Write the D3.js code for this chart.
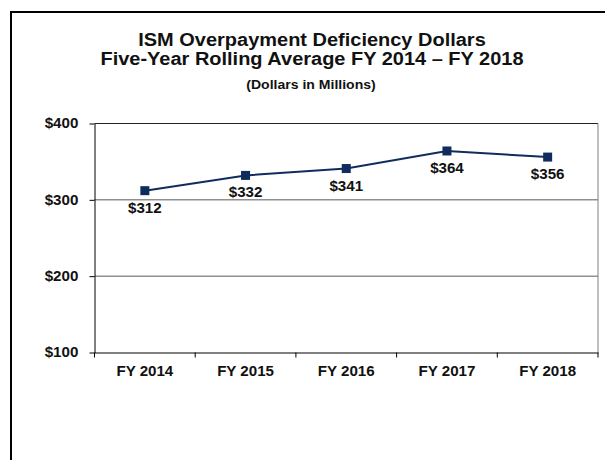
<!DOCTYPE html>
<html>
<head>
<meta charset="utf-8">
<script src="https://cdnjs.cloudflare.com/ajax/libs/d3/7.8.5/d3.min.js"></script>
<style>
  body { margin: 0; background: #fff; }
  text { font-family: "Liberation Sans", Arial, sans-serif; font-weight: bold; fill: #111; }
</style>
</head>
<body>
<div id="chart"></div>
<script>
const years = ['FY 2014', 'FY 2015', 'FY 2016', 'FY 2017', 'FY 2018']
const values = [312, 332, 341, 364, 356]
const yTicks = [100, 200, 300, 400]
const titleLines = ['ISM Overpayment Deficiency Dollars', 'Five-Year Rolling Average FY 2014 \u2013 FY 2018']
const subTitle = '(Dollars in Millions)'

const w = 605,
      h = 460,
      stretch = 1.08,
      navy = '#0f2d5c'

const svg = d3.select('#chart')
              .append('svg')
              .attr('width', w)
              .attr('height', h)

// outer frame, runs past the right and bottom edge
svg.append('rect')
   .attr('x', 11)
   .attr('y', 12)
   .attr('width', 700)
   .attr('height', 600)
   .attr('fill', 'none')
   .attr('stroke', '#000')
   .attr('stroke-width', 2)

const addText = (x, y, txt, size) => {
  return svg.append('text')
            .attr('transform', `translate(${x},${y}) scale(${stretch},1)`)
            .attr('text-anchor', 'middle')
            .style('font-size', size + 'px')
            .text(txt)
}

addText(312, 46, titleLines[0], 18.5)
addText(312, 64.5, titleLines[1], 18.5)
addText(311, 88.5, subTitle, 13)

const xScale = d3.scaleBand()
                 .domain(years)
                 .range([94.5, 598])

const yScale = d3.scaleLinear()
                 .domain([100, 400])
                 .range([352.5, 123.5])

// gridlines
svg.append('g')
   .selectAll('line')
   .data(yTicks.slice(1, 3))
   .enter()
   .append('line')
   .attr('x1', 94.5)
   .attr('x2', 598)
   .attr('y1', (d) => yScale(d))
   .attr('y2', (d) => yScale(d))
   .attr('stroke', '#5a5a5a')

// plot border top and right
svg.append('line')
   .attr('x1', 94.5).attr('x2', 598)
   .attr('y1', yScale(400)).attr('y2', yScale(400))
   .attr('stroke', '#222')
svg.append('line')
   .attr('x1', 598).attr('x2', 598)
   .attr('y1', yScale(400)).attr('y2', yScale(100))
   .attr('stroke', '#808080')

const yAxis = svg.append('g')
                 .attr('transform', 'translate(94.5,0)')
                 .call(d3.axisLeft(yScale)
                         .tickValues(yTicks)
                         .tickSize(5)
                         .tickSizeOuter(0)
                         .tickPadding(10)
                         .tickFormat((d) => '$' + d))
yAxis.select('.domain').attr('stroke', '#000')
yAxis.selectAll('text')
     .style('font-size', '14px')
     .attr('transform', `scale(${stretch},1)`)

const xAxis = svg.append('g')
                 .attr('transform', 'translate(0,352.5)')
                 .call(d3.axisBottom(xScale)
                         .tickSize(0)
                         .tickSizeOuter(0)
                         .tickPadding(14))
xAxis.selectAll('text')
     .style('font-size', '14px')
     .attr('transform', `scale(${stretch},1)`)

// ticks between the categories
const bounds = years.map((d) => xScale(d)).concat([xScale.range()[1]])
xAxis.selectAll('.bound')
     .data(bounds)
     .enter()
     .append('line')
     .attr('class', 'bound')
     .attr('x1', (d) => d)
     .attr('x2', (d) => d)
     .attr('y1', 0)
     .attr('y2', 5)
     .attr('stroke', '#000')

const cx = (i) => xScale(years[i]) + xScale.bandwidth() / 2

const line = d3.line()
               .x((d, i) => cx(i))
               .y((d) => yScale(d))

svg.append('path')
   .datum(values)
   .attr('d', line)
   .attr('fill', 'none')
   .attr('stroke', navy)
   .attr('stroke-width', 2)

svg.selectAll('.marker')
   .data(values)
   .enter()
   .append('rect')
   .attr('class', 'marker')
   .attr('x', (d, i) => cx(i) - 4.5)
   .attr('y', (d) => yScale(d) - 4.5)
   .attr('width', 9)
   .attr('height', 9)
   .attr('fill', navy)

svg.selectAll('.val')
   .data(values)
   .enter()
   .append('text')
   .attr('class', 'val')
   .attr('transform', (d, i) => `translate(${cx(i)},${yScale(d) + 22}) scale(${stretch},1)`)
   .attr('text-anchor', 'middle')
   .style('font-size', '14px')
   .text((d) => '$' + d)
</script>
</body>
</html>
